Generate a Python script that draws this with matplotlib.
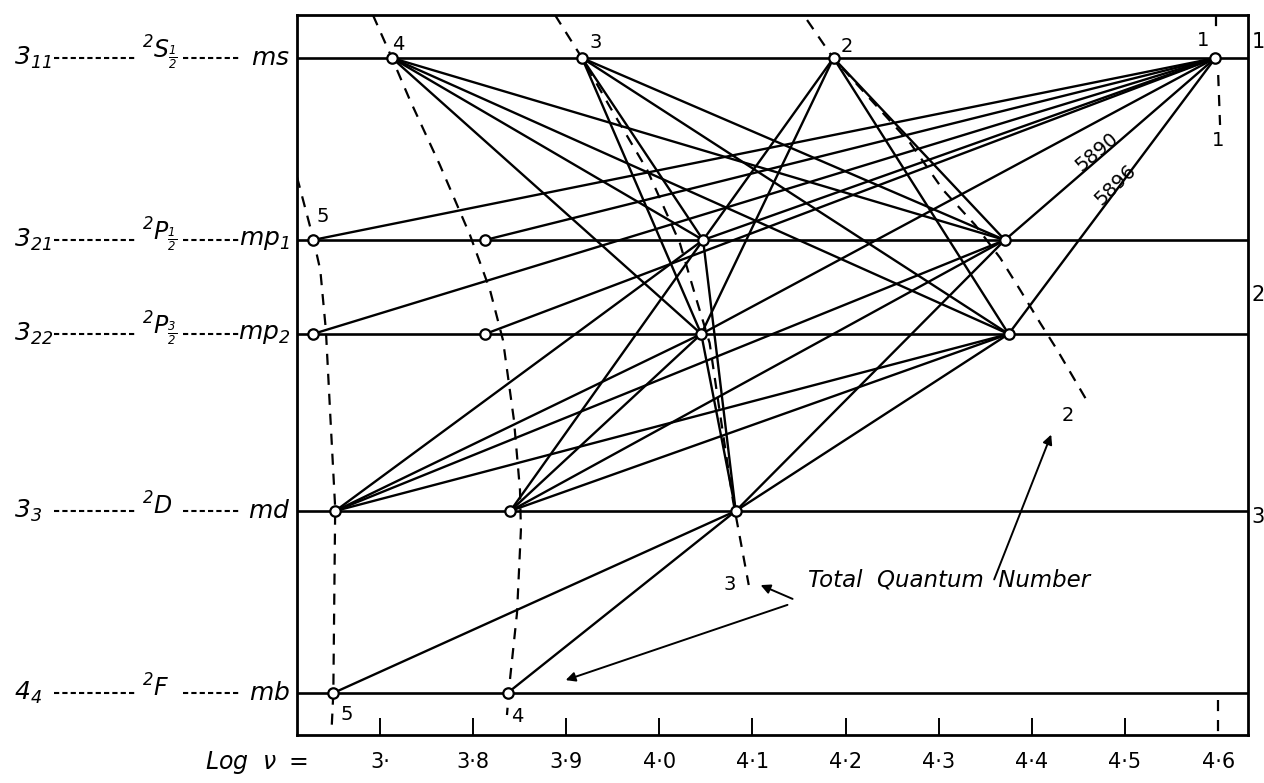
import numpy as np
import matplotlib.pyplot as plt
from matplotlib.transforms import blended_transform_factory

plt.rcParams['font.family'] = ['DejaVu Sans']
plt.rcParams['mathtext.fontset'] = 'custom'
plt.rcParams['mathtext.rm'] = 'DejaVu Sans:italic'
plt.rcParams['mathtext.it'] = 'DejaVu Sans:italic'

# level heights (diagram units, counted downwards)
level_names = ["S", "P1", "P2", "D", "F"]
level_y = [0.58, 2.40, 3.34, 5.11, 6.93]
level_number = [r"$3_{11}$", r"$3_{21}$", r"$3_{22}$", r"$3_{3}$", r"$4_{4}$"]
term_symbol = [r"$^{2}S_{\frac{1}{2}}$", r"$^{2}P_{\frac{1}{2}}$",
               r"$^{2}P_{\frac{3}{2}}$", r"$^{2}D$", r"$^{2}F$"]
m_symbol = [r"$ms$", r"$mp_1$", r"$mp_2$", r"$md$", r"$mb$"]
right_number = ["1", "2", "3"]
right_number_y = [0.42, 2.95, 5.17]

# log(nu) of each term
nodes = {
    "S4": (3.713, "S"), "S3": (3.917, "S"), "S2": (4.187, "S"), "S1": (4.597, "S"),
    "P1_5": (3.628, "P1"), "P1_4": (3.813, "P1"), "P1_3": (4.047, "P1"), "P1_2": (4.371, "P1"),
    "P2_5": (3.628, "P2"), "P2_4": (3.813, "P2"), "P2_3": (4.045, "P2"), "P2_2": (4.375, "P2"),
    "D5": (3.652, "D"), "D4": (3.840, "D"), "D3": (4.082, "D"),
    "F5": (3.650, "F"), "F4": (3.837, "F"),
}

transitions = (
    [("S1", p) for p in ["P1_5", "P2_5", "P1_4", "P2_4", "P1_3", "P2_3", "P1_2", "P2_2"]]
    + [(s, p) for s in ["S2", "S3", "S4"] for p in ["P1_3", "P2_3", "P1_2", "P2_2"]]
    + [(d, p) for d in ["D5", "D4", "D3"] for p in ["P1_3", "P2_3", "P1_2", "P2_2"]]
    + [("F5", "D3"), ("F4", "D3")]
)

# total quantum number curves (log nu, height)
curve5_x = [3.611, 3.628, 3.636, 3.642, 3.647, 3.652, 3.651, 3.650, 3.648]
curve5_y = [1.77, 2.37, 2.70, 3.30, 4.20, 5.08, 6.00, 6.93, 7.32]
curve4_x = [3.6925, 3.7129, 3.7322, 3.7644, 3.7967, 3.8182, 3.8321, 3.8439, 3.8504,
            3.8514, 3.8472, 3.8396, 3.8364]
curve4_y = [0.15, 0.58, 1.00, 1.65, 2.35, 2.90, 3.40, 4.20, 4.90, 5.30, 6.13, 6.80, 7.15]
curve3_x = [3.888, 3.917, 3.947, 3.987, 4.022, 4.040, 4.054, 4.063, 4.071, 4.079,
            4.085, 4.092, 4.096]
curve3_y = [0.15, 0.58, 1.07, 1.70, 2.43, 3.00, 3.43, 4.00, 4.50, 5.00, 5.30, 5.65, 5.85]
curve2_x = [4.1586, 4.1866, 4.2371, 4.2693, 4.3047, 4.3391, 4.366, 4.3874, 4.4089,
            4.4272, 4.4605]
curve2_y = [0.20, 0.58, 1.10, 1.43, 1.90, 2.25, 2.58, 2.90, 3.23, 3.50, 4.03]

tick_values = [3.7, 3.8, 3.9, 4.0, 4.1, 4.2, 4.3, 4.4, 4.5, 4.6]
tick_labels = ["3·", "3·8", "3·9", "4·0", "4·1", "4·2", "4·3", "4·4", "4·5", "4·6"]

fig = plt.figure(figsize=(12.64, 7.83), dpi=100)
ax = fig.add_axes([297 / 1264, 48 / 783, 951 / 1264, 720 / 783])
ax.set_xlim(3.611, 4.632)
ax.set_ylim(7.35, 0.15)

for y in level_y:
    ax.axhline(y, color="k", lw=1.9, zorder=2)

ypos = dict(zip(level_names, level_y))
for a, b in transitions:
    xa, la = nodes[a]
    xb, lb = nodes[b]
    ax.plot([xa, xb], [ypos[la], ypos[lb]], color="k", lw=1.7, zorder=3,
            solid_capstyle="round")

dash = dict(color="k", lw=1.6, linestyle=(0, (5, 4)), zorder=2)
for cx, cy in [(curve5_x, curve5_y), (curve4_x, curve4_y), (curve3_x, curve3_y),
               (curve2_x, curve2_y)]:
    ax.plot(cx, cy, **dash)
ax.plot([4.598, 4.598], [0.15, 0.35], **dash)
ax.plot([4.600, 4.602], [0.75, 1.25], **dash)
ax.plot([4.600, 4.600], [7.00, 7.35], **dash)

for name, (x, lev) in nodes.items():
    ax.plot(x, ypos[lev], "o", ms=7.5, mfc="white", mec="k", mew=1.6, zorder=5)

# node / curve labels
small = dict(fontsize=14, ha="center", va="center")
for x, y, s in [(3.720, 0.44, "4"), (3.932, 0.42, "3"), (4.2016, 0.46, "2"),
                (4.584, 0.40, "1"), (4.600, 1.40, "1"), (3.639, 2.17, "5"),
                (3.6646, 7.15, "5"), (3.847, 7.17, "4"), (4.076, 5.85, "3"),
                (4.439, 4.15, "2")]:
    ax.text(x, y, s, **small)

ax.text(4.470, 1.52, "5890", fontsize=14, rotation=40, ha="center", va="center")
ax.text(4.4895, 1.85, "5896", fontsize=14, rotation=44, ha="center", va="center")

ax.text(4.160, 5.80, "Total  Quantum  Number", fontsize=16.5, style="italic",
        ha="left", va="center")
arrow = dict(arrowstyle="-|>", lw=1.4, color="k", mutation_scale=14)
ax.annotate("", xy=(4.106, 5.84), xytext=(4.1458, 6.00), arrowprops=arrow)
ax.annotate("", xy=(3.8966, 6.81), xytext=(4.1404, 6.04), arrowprops=arrow)
ax.annotate("", xy=(4.4218, 4.32), xytext=(4.3584, 5.82), arrowprops=arrow)

# axes and ticks
for sp in ax.spines.values():
    sp.set_linewidth(2)
ax.set_yticks([])
ax.set_xticks(tick_values)
ax.set_xticklabels(tick_labels, fontsize=15)
ax.tick_params(axis="x", direction="in", length=12, width=1.4, pad=12)
ax.xaxis.get_major_ticks()[-1].tick1line.set_visible(False)
fig.text(205 / 1264, 1 - 762 / 783, r"$Log\ \ \nu\ =$", fontsize=17,
         ha="left", va="center")

# left-hand term labels with dashed leaders
tr = blended_transform_factory(fig.transFigure, ax.transData)
for i, y in enumerate(level_y):
    ax.text(14 / 1264, y, level_number[i], transform=tr, fontsize=18,
            ha="left", va="center", clip_on=False)
    ax.plot([54 / 1264, 137 / 1264], [y, y], transform=tr, color="k", lw=1.5,
            linestyle=(0, (2.5, 1.5)), clip_on=False)
    ax.text(142 / 1264, y - 0.05, term_symbol[i], transform=tr, fontsize=17,
            ha="left", va="center", clip_on=False)
    ax.plot([183 / 1264, 240 / 1264], [y, y], transform=tr, color="k", lw=1.5,
            linestyle=(0, (2.5, 1.5)), clip_on=False)
    ax.text(290 / 1264, y, m_symbol[i], transform=tr, fontsize=18,
            ha="right", va="center", clip_on=False)

for s, y in zip(right_number, right_number_y):
    ax.text(1258 / 1264, y, s, transform=tr, fontsize=15, ha="center",
            va="center", clip_on=False)

fig.savefig("out.png", dpi=100)
